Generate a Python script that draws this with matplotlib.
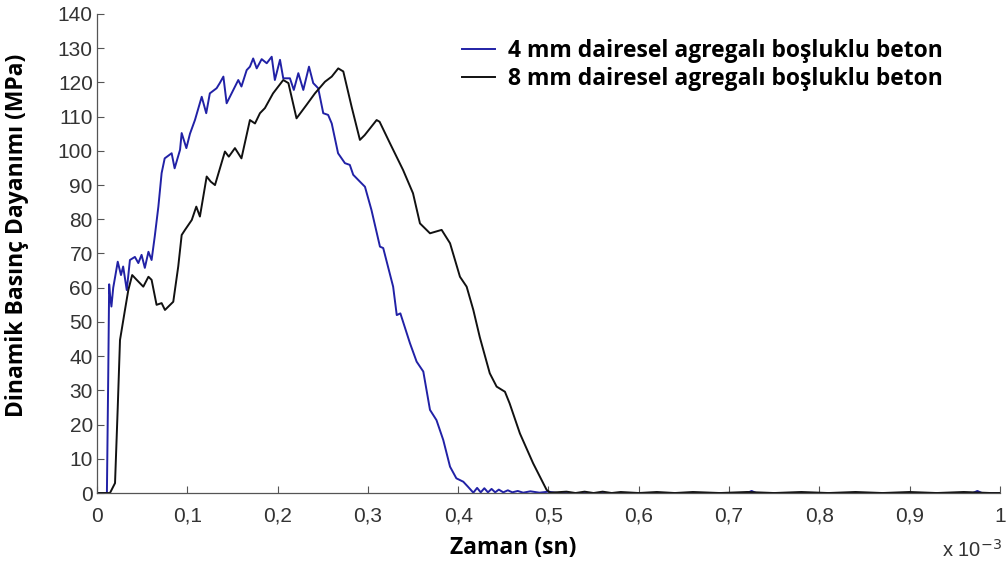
import matplotlib
matplotlib.use("Agg")
import matplotlib.pyplot as plt

# Time values in units of 1e-3 s, stress in MPa
t_4mm = [0, 0.011, 0.0125, 0.0135, 0.0144, 0.016, 0.018, 0.020, 0.023, 0.0266,
         0.029, 0.033, 0.0365, 0.042, 0.0458, 0.0494, 0.053, 0.057, 0.0605, 0.064,
         0.068, 0.0716, 0.075, 0.0827, 0.086, 0.092, 0.0938, 0.099, 0.103, 0.1085,
         0.116, 0.121, 0.125, 0.1325, 0.136, 0.14, 0.1436, 0.151, 0.1565, 0.160,
         0.1658, 0.1694, 0.173, 0.1769, 0.1824, 0.188, 0.1935, 0.197, 0.2027, 0.2063,
         0.2137, 0.218, 0.223, 0.2285, 0.2348, 0.2395, 0.245, 0.2506, 0.256, 0.26,
         0.267, 0.2746, 0.28, 0.2838, 0.2912, 0.2968, 0.304, 0.3134, 0.317, 0.328,
         0.332, 0.336, 0.3466, 0.354, 0.3614, 0.3688, 0.376, 0.3835, 0.391, 0.398,
         0.4057, 0.411, 0.4168, 0.421, 0.425, 0.429, 0.433, 0.437, 0.441, 0.445,
         0.45, 0.455, 0.46, 0.466, 0.472, 0.48, 0.49, 0.50, 0.51, 0.60, 0.72,
         0.725, 0.73, 0.97, 0.975, 0.98, 1.0]
v_4mm = [0, 0, 35, 61, 58, 54.5, 60, 63, 67.6, 63.7,
         66.2, 59.3, 68.1, 69, 67.2, 69.6, 65.8, 70.5, 68.1, 75,
         83.7, 93.5, 97.8, 99.3, 94.9, 100.3, 105.2, 100.8, 105, 109,
         115.8, 111, 116.8, 118.3, 119.8, 121.7, 113.9, 117.8, 120.7, 118.8,
         123.6, 124.6, 127, 124.1, 126.8, 125.6, 127.5, 120.7, 126.6, 121.2,
         121.2, 117.8, 122.7, 117.8, 124.6, 119.8, 118.3, 111, 110.5, 108,
         99.3, 96.4, 95.9, 93, 91, 89.5, 82.7, 72, 71.6, 60.3,
         52, 52.5, 43.8, 38.4, 35.5, 24.3, 21.3, 15.5, 7.7, 4.3,
         3.3, 1.8, 0.1, 1.5, 0.2, 1.4, 0.2, 1.2, 0.2, 1.0,
         0.2, 0.8, 0.2, 0.6, 0.1, 0.5, 0.1, 0.4, 0, 0, 0,
         0.6, 0, 0, 0.6, 0, 0]

t_8mm = [0, 0.0144, 0.02, 0.023, 0.0255, 0.031, 0.0347, 0.039, 0.044, 0.0513,
         0.057, 0.0605, 0.066, 0.0716, 0.0753, 0.0845, 0.09, 0.0938, 0.0975, 0.105,
         0.110, 0.114, 0.1215, 0.126, 0.1307, 0.1417, 0.146, 0.1528, 0.160, 0.1694,
         0.175, 0.1805, 0.186, 0.195, 0.2063, 0.212, 0.221, 0.232, 0.2414, 0.2525,
         0.26, 0.2672, 0.2728, 0.282, 0.2912, 0.2965, 0.3097, 0.313, 0.3245, 0.339,
         0.350, 0.3577, 0.3688, 0.3817, 0.391, 0.402, 0.4094, 0.4168, 0.424, 0.435,
         0.4426, 0.4518, 0.457, 0.4684, 0.483, 0.498, 0.502, 0.52, 0.53, 0.54,
         0.55, 0.56, 0.57, 0.58, 0.60, 0.62, 0.64, 0.66, 0.69, 0.72, 0.75,
         0.78, 0.81, 0.84, 0.87, 0.90, 0.93, 0.96, 0.99, 1.0]
v_8mm = [0, 0, 2.9, 25, 44.7, 53.5, 59.3, 63.7, 62.3, 60.3,
         63.2, 62.3, 55, 55.5, 53.5, 55.9, 66.2, 75.4, 76.9, 79.8,
         83.7, 80.8, 92.5, 91, 90, 99.8, 98.3, 100.8, 97.8, 109,
         108, 111, 112.5, 116.8, 120.7, 119.8, 109.5, 113.4, 116.8, 120.2,
         121.7, 124.1, 123.2, 112.9, 103.2, 104.6, 109, 108.5, 102.2, 94.4,
         87.6, 78.8, 75.9, 76.9, 73, 63.2, 60.3, 53.5, 45.5, 35,
         31.1, 29.6, 26.2, 17.4, 8.7, 0.9, 0.1, 0.4, 0, 0.4,
         0, 0.4, 0, 0.3, 0, 0.3, 0, 0.3, 0, 0.3, 0,
         0.3, 0, 0.3, 0, 0.3, 0, 0.3, 0, 0]

x_ticks = [0, 0.1, 0.2, 0.3, 0.4, 0.5, 0.6, 0.7, 0.8, 0.9, 1.0]
x_tick_labels = ["0", "0,1", "0,2", "0,3", "0,4", "0,5", "0,6", "0,7", "0,8", "0,9", "1"]
y_ticks = list(range(0, 141, 10))

label_4mm = "4 mm dairesel agregalı boşluklu beton"
label_8mm = "8 mm dairesel agregalı boşluklu beton"


def main():
    fig = plt.figure(figsize=(10.08, 5.68), dpi=100)
    ax = fig.add_axes([0.0962, 0.132, 0.8958, 0.8434])

    ax.plot(t_4mm, v_4mm, color="#2121a6", lw=1.4, label=label_4mm)
    ax.plot(t_8mm, v_8mm, color="#111111", lw=1.4, label=label_8mm)

    ax.set_xlim(0, 1)
    ax.set_ylim(0, 140)
    ax.set_xticks(x_ticks)
    ax.set_xticklabels(x_tick_labels)
    ax.set_yticks(y_ticks)

    # MATLAB look: only left/bottom axes, ticks pointing inward
    ax.spines["top"].set_visible(False)
    ax.spines["right"].set_visible(False)
    for side in ("left", "bottom"):
        ax.spines[side].set_color("#555555")
        ax.spines[side].set_linewidth(0.9)
    ax.tick_params(direction="in", length=5, width=0.8, color="#555555",
                   labelsize=15, labelcolor="#333333", pad=3)
    ax.tick_params(axis="x", pad=10)
    for lbl in ax.get_xticklabels() + ax.get_yticklabels():
        lbl.set_family("Liberation Sans")

    ax.set_xlabel("Zaman (sn)", fontsize=16.5, fontweight="bold", family="Open Sans")
    ax.xaxis.set_label_coords(0.4607, -0.09)
    ax.set_ylabel("Dinamik Basınç Dayanımı (MPa)", fontsize=16.5, fontweight="bold",
                  family="Open Sans")
    ax.yaxis.set_label_coords(-0.075, 0.537)

    fig.text(0.935, 0.02, "x 10$^{-3}$", fontsize=14.5, color="#333333",
             family="Liberation Sans")

    ax.legend(loc="upper left", bbox_to_anchor=(0.404, 0.948), frameon=False,
              prop={"family": "Open Sans", "weight": "bold", "size": 16.5},
              handlelength=1.44, handletextpad=0.57, labelspacing=0.17,
              borderpad=0, borderaxespad=0)

    fig.savefig("out.png", dpi=100)


if __name__ == "__main__":
    main()
